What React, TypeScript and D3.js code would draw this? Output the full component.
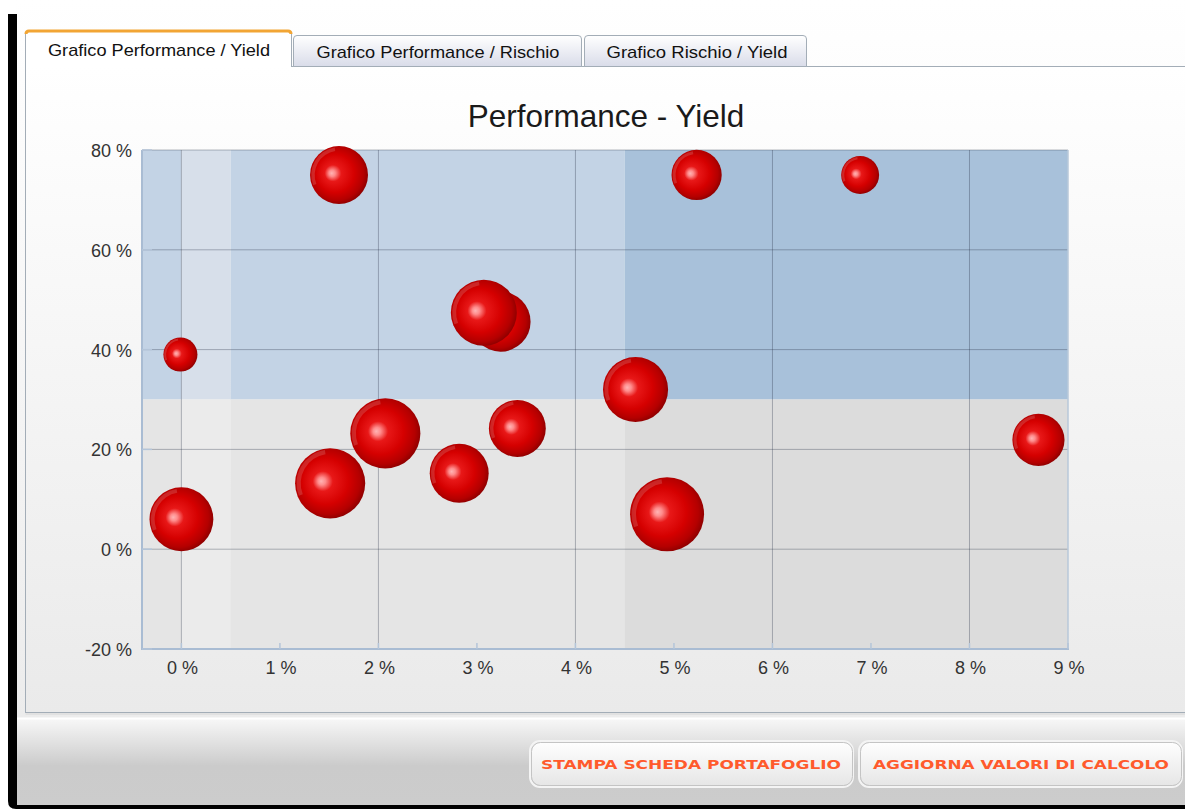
import React from "react";
import * as d3 from "d3";

// yield (x, %), performance (y, %), bubble weight
const yieldValues = [0.0, -0.01, 1.6, 1.51, 2.07, 2.82, 3.24, 3.07, 3.41, 4.61, 4.93, 5.23, 6.89, 8.7];
const performanceValues = [6, 39, 75, 13.2, 23.2, 15.2, 45.6, 47.4, 24.2, 32, 7, 75, 75, 21.9];
const weights = [10.2, 2.9, 8.4, 12.3, 12.3, 8.7, 9.0, 10.9, 8.1, 10.6, 13.7, 6.3, 3.6, 6.8];

const xTicks = [0, 1, 2, 3, 4, 5, 6, 7, 8, 9];
const xGrid = [0, 2, 4, 6, 8];
const yTicks = [-20, 0, 20, 40, 60, 80];
const yGrid = [0, 20, 40, 60, 80];

// background zones
const xZones = [-0.4, 0, 0.5, 4.5, 9];
const yZoneSplit = 30;

const tabLabels = ["Grafico Performance / Yield", "Grafico Performance / Rischio", "Grafico Rischio / Yield"];
const buttonLabels = ["STAMPA SCHEDA PORTAFOGLIO", "AGGIORNA VALORI DI CALCOLO"];

const W = 1185;
const H = 809;

const App = () => {
  const x = d3.scaleLinear().domain([-0.4, 9]).range([142, 1068]);
  const y = d3.scaleLinear().domain([-20, 80]).range([649, 150]);
  const r = d3.scaleSqrt().domain([0, 13.7]).range([0, 37]);

  const upperColors = ["#c3d3e5", "#d7dfea", "#c3d3e5", "#a8c1da"];
  const lowerColors = ["#e5e5e5", "#ebebeb", "#e5e5e5", "#dcdcdc"];

  const bubbles = yieldValues.map((v, i) => ({
    cx: x(v),
    cy: y(performanceValues[i]),
    rad: r(weights[i]),
  }));

  const font = "'Liberation Sans', Arial, sans-serif";

  const tabs = [
    { x0: 25, x1: 292, top: 30, cx: 159, base: 56, len: 222 },
    { x0: 293, x1: 582, top: 35, cx: 438, base: 58, len: 243 },
    { x0: 584, x1: 807, top: 35, cx: 697, base: 58, len: 181 },
  ];
  const buttons = [
    { x0: 531, w: 321, cx: 691, len: 300 },
    { x0: 860, w: 321, cx: 1021, len: 296 },
  ];

  const tabPath = (x0: number, x1: number, top: number, bottom: number) =>
    `M${x0 + 0.5},${bottom} L${x0 + 0.5},${top + 4} Q${x0 + 0.5},${top + 0.5} ${x0 + 4},${top + 0.5} L${x1 - 4},${top + 0.5} Q${x1 - 0.5},${top + 0.5} ${x1 - 0.5},${top + 4} L${x1 - 0.5},${bottom}`;

  return (
    <svg width={W} height={H} style={{ position: "absolute", left: 0, top: 0 }}>
      <defs>
        <linearGradient id="pageBg" x1="0" y1="0" x2="0" y2="1">
          <stop offset="0%" stopColor="#ffffff" />
          <stop offset="100%" stopColor="#ececec" />
        </linearGradient>
        <linearGradient id="panelBg" x1="0" y1="0" x2="0" y2="1">
          <stop offset="0%" stopColor="#ffffff" />
          <stop offset="100%" stopColor="#eaeaea" />
        </linearGradient>
        <linearGradient id="barBg" x1="0" y1="0" x2="0" y2="1">
          <stop offset="0%" stopColor="#f8f8f8" />
          <stop offset="55%" stopColor="#cbcbcb" />
          <stop offset="100%" stopColor="#cccccc" />
        </linearGradient>
        <linearGradient id="tabBg" x1="0" y1="0" x2="0" y2="1">
          <stop offset="0%" stopColor="#ffffff" />
          <stop offset="100%" stopColor="#d9dce9" />
        </linearGradient>
        <linearGradient id="btnBg" x1="0" y1="0" x2="0" y2="1">
          <stop offset="0%" stopColor="#fefefe" />
          <stop offset="100%" stopColor="#e6e6e6" />
        </linearGradient>
        <radialGradient id="ball" cx="0.47" cy="0.47" r="0.55" fx="0.37" fy="0.47">
          <stop offset="0%" stopColor="#ffb4b4" />
          <stop offset="10%" stopColor="#ff8c8c" />
          <stop offset="26%" stopColor="#e81818" />
          <stop offset="60%" stopColor="#d50000" />
          <stop offset="85%" stopColor="#b40000" />
          <stop offset="100%" stopColor="#8a0000" />
        </radialGradient>
      </defs>

      {/* page */}
      <rect x={0} y={0} width={W} height={H} fill="#ffffff" />
      <rect x={16} y={0} width={W - 16} height={720} fill="url(#pageBg)" />

      {/* black frame */}
      <path d={`M8,14 L17,14 L17,800 Q17,805 22,805 L${W},805 L${W},${H} L16,${H} Q8,${H} 8,801 Z`} fill="#000" />

      {/* bottom bar */}
      <rect x={17} y={718} width={W - 17} height={87} fill="url(#barBg)" />
      <line x1={17} x2={W} y1={718.5} y2={718.5} stroke="#ffffff" strokeWidth={2} />

      {/* tab panel */}
      <rect x={25.5} y={66.5} width={W} height={646} fill="url(#panelBg)" stroke="#a3adb7" />
      <line x1={25.5} x2={W} y1={714} y2={714} stroke="#d6d6d6" />

      {/* tabs */}
      {tabs.map((t, i) => (
        <g key={i}>
          <path
            d={tabPath(t.x0, t.x1, t.top, i === 0 ? 67 : 66.5) + (i === 0 ? "" : " Z")}
            fill={i === 0 ? "#ffffff" : "url(#tabBg)"}
            stroke="#a3adb7"
          />
          {i === 0 && (
            <path
              d={`M${t.x0 + 1},${t.top + 4} Q${t.x0 + 1},${t.top + 1} ${t.x0 + 4},${t.top + 1} L${t.x1 - 4},${t.top + 1} Q${t.x1 - 1},${t.top + 1} ${t.x1 - 1},${t.top + 4}`}
              fill="none"
              stroke="#f2a534"
              strokeWidth={3}
            />
          )}
          <text
            x={t.cx}
            y={t.base}
            textAnchor="middle"
            fontFamily={font}
            fontSize={17}
            fill="#111"
            textLength={t.len}
            lengthAdjust="spacingAndGlyphs"
          >
            {tabLabels[i]}
          </text>
        </g>
      ))}

      {/* title */}
      <text x={606} y={127} textAnchor="middle" fontFamily={font} fontSize={31.5} fill="#1a1a1a">
        Performance - Yield
      </text>

      {/* background zones */}
      {xZones.slice(0, -1).map((z, i) => (
        <g key={"z" + i}>
          <rect
            x={x(z)}
            y={y(80)}
            width={x(xZones[i + 1]) - x(z)}
            height={y(yZoneSplit) - y(80)}
            fill={upperColors[i]}
          />
          <rect
            x={x(z)}
            y={y(yZoneSplit)}
            width={x(xZones[i + 1]) - x(z)}
            height={y(-20) - y(yZoneSplit)}
            fill={lowerColors[i]}
          />
        </g>
      ))}

      {/* grid */}
      {xGrid.map((v) => (
        <line key={"gx" + v} x1={x(v)} x2={x(v)} y1={y(80)} y2={y(-20)} stroke="rgba(40,50,70,0.33)" />
      ))}
      {yGrid.map((v) => (
        <line key={"gy" + v} x1={x(-0.4)} x2={x(9)} y1={y(v)} y2={y(v)} stroke="rgba(40,50,70,0.33)" />
      ))}

      {/* axes */}
      <line x1={x(9)} x2={x(9)} y1={y(80)} y2={y(-20)} stroke="#b9c8da" strokeWidth={1.5} />
      <line x1={x(-0.4)} x2={x(-0.4)} y1={y(80)} y2={y(-20) + 1} stroke="#a9bcd3" strokeWidth={2} />
      <line x1={x(-0.4) - 1} x2={x(9) + 1} y1={y(-20)} y2={y(-20)} stroke="#a9bcd3" strokeWidth={2} />
      {xTicks.map((v) => (
        <line key={"tx" + v} x1={x(v)} x2={x(v)} y1={y(-20)} y2={y(-20) - 6} stroke="#b4c5d9" strokeWidth={1.5} />
      ))}
      {yTicks.map((v) => (
        <line key={"ty" + v} x1={x(-0.4)} x2={x(-0.4) + 10} y1={y(v)} y2={y(v)} stroke="#b4c5d9" strokeWidth={1.5} />
      ))}

      {xTicks.map((v) => (
        <text key={"lx" + v} x={x(v) + 1} y={674} textAnchor="middle" fontFamily={font} fontSize={18} fill="#333">
          {`${v} %`}
        </text>
      ))}
      {yTicks.map((v) => (
        <text key={"ly" + v} x={132} y={y(v) + 7} textAnchor="end" fontFamily={font} fontSize={18} fill="#333">
          {`${v} %`}
        </text>
      ))}

      {/* bubbles */}
      {bubbles.map((b, i) => (
        <g key={"b" + i}>
          <circle cx={b.cx} cy={b.cy} r={b.rad} fill="url(#ball)" />
          <path
            d={d3.arc()({
              innerRadius: b.rad * 0.84,
              outerRadius: b.rad * 0.96,
              startAngle: -Math.PI * 0.62,
              endAngle: -Math.PI * 0.05,
            }) as string}
            transform={`translate(${b.cx},${b.cy})`}
            fill="#ffffff"
            opacity={0.15}
          />
        </g>
      ))}

      {/* buttons */}
      {buttons.map((b, i) => (
        <g key={"btn" + i}>
          <rect x={b.x0 - 1} y={741} width={b.w + 2} height={46} rx={10} fill="none" stroke="#f4f4f4" strokeWidth={2} />
          <rect x={b.x0 + 0.5} y={742.5} width={b.w} height={43} rx={9} fill="url(#btnBg)" stroke="#c4c4c4" />
          <text
            x={b.cx}
            y={769}
            textAnchor="middle"
            fontFamily="'DejaVu Sans', sans-serif"
            fontWeight="bold"
            fontSize={11.5}
            fill="#ff5a2c"
            textLength={b.len}
            lengthAdjust="spacingAndGlyphs"
          >
            {buttonLabels[i]}
          </text>
        </g>
      ))}
    </svg>
  );
};

export default App;
